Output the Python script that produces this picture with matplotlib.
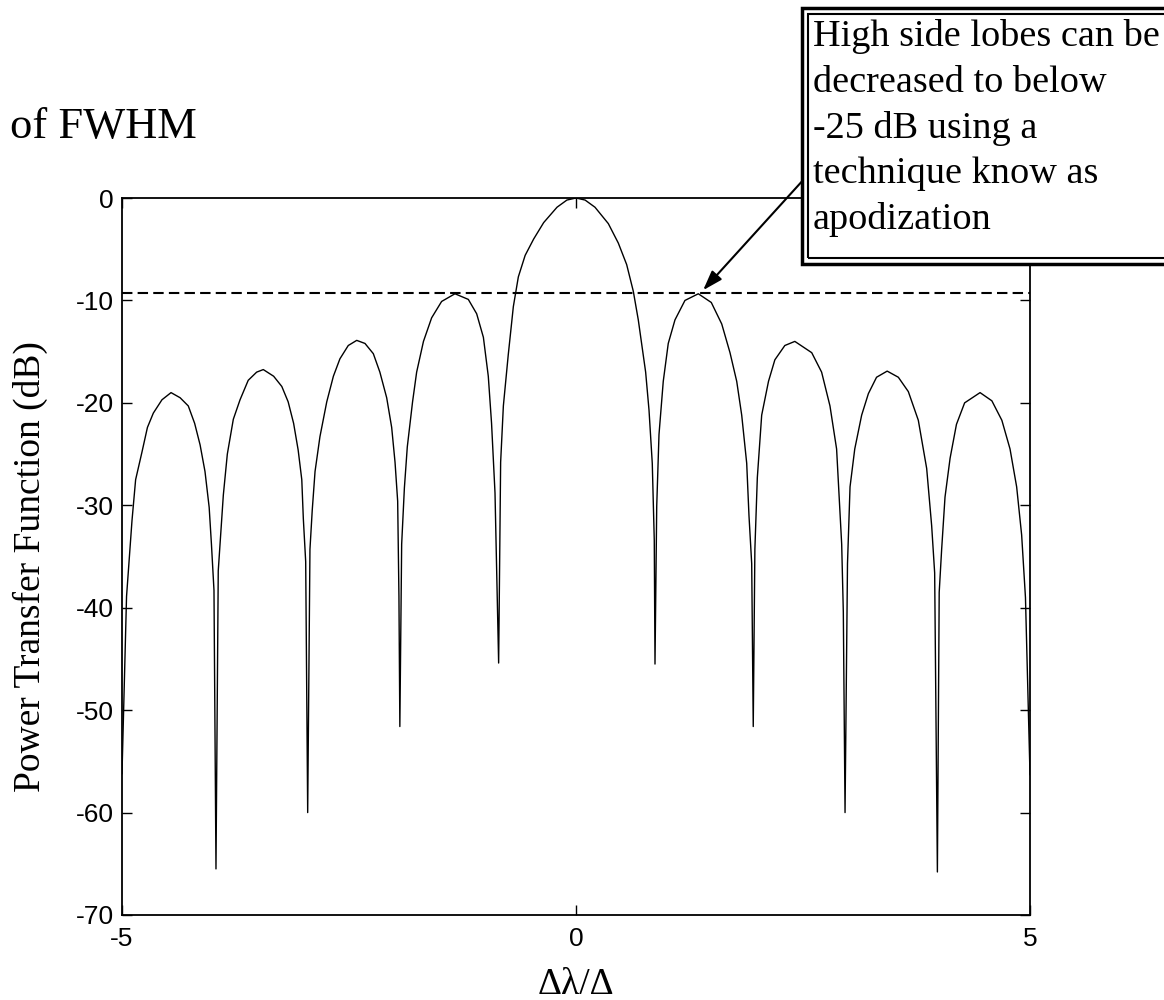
import numpy as np
import matplotlib
matplotlib.use("Agg")
import matplotlib.pyplot as plt
from matplotlib.patches import Rectangle

plt.rcParams["axes.unicode_minus"] = False

# readings taken off the reference curve (detuning, dB)
detuning = [
    -5.0, -4.95, -4.89, -4.85, -4.78, -4.72, -4.655, -4.56, -4.46, -4.36, -4.27,
    -4.20, -4.14, -4.086, -4.04, -4.015, -3.987, -3.965,
    -3.94, -3.90, -3.884, -3.84, -3.774, -3.70, -3.61, -3.517, -3.444, -3.33,
    -3.24, -3.17, -3.11, -3.06, -3.02, -3.003, -2.977, -2.955,
    -2.93, -2.905, -2.874, -2.82, -2.745, -2.672, -2.60, -2.508, -2.415, -2.324,
    -2.232, -2.16, -2.085, -2.03, -1.993, -1.964, -1.95, -1.94,
    -1.92, -1.89, -1.858, -1.80, -1.755, -1.68, -1.59, -1.48, -1.333, -1.186,
    -1.094, -1.02, -0.966, -0.93, -0.892, -0.852,
    -0.83, -0.80, -0.746, -0.69, -0.635, -0.56, -0.466, -0.356, -0.209, -0.1,
    0.0, 0.1, 0.209, 0.356, 0.466, 0.558, 0.631, 0.686, 0.723, 0.767, 0.804,
    0.84, 0.862, 0.87,
    0.889, 0.914, 0.961, 1.016, 1.09, 1.20, 1.347, 1.49, 1.605, 1.696, 1.77,
    1.825, 1.88, 1.905, 1.935, 1.952,
    1.97, 1.997, 2.045, 2.12, 2.19, 2.30, 2.41, 2.596, 2.705, 2.797, 2.87,
    2.926, 2.944, 2.963,
    2.99, 3.018, 3.07, 3.146, 3.22, 3.31, 3.427, 3.55, 3.66, 3.77, 3.862,
    3.917, 3.95, 3.98,
    4.0, 4.027, 4.064, 4.12, 4.19, 4.28, 4.45, 4.58, 4.69, 4.78, 4.853,
    4.908, 4.95, 5.0,
]
power_db = [
    -56.2, -38.9, -31.5, -27.5, -24.8, -22.4, -21.0, -19.7, -19.0, -19.5, -20.3,
    -22.0, -24.1, -26.7, -30.2, -33.8, -38.3, -65.5,
    -36.4, -31.0, -29.0, -25.0, -21.6, -19.7, -17.8, -17.0, -16.75, -17.4,
    -18.4, -19.9, -22.0, -24.6, -27.5, -31.3, -35.5, -60.0,
    -34.3, -30.5, -26.7, -23.3, -19.9, -17.4, -15.7, -14.4, -13.9, -14.2,
    -15.2, -17.0, -19.5, -22.4, -25.8, -29.6, -38.9, -51.6,
    -33.8, -28.3, -24.3, -19.9, -17.0, -14.0, -11.7, -10.1, -9.35, -9.9,
    -11.3, -13.6, -17.4, -22.0, -28.8, -45.4,
    -25.8, -20.3, -15.3, -10.6, -7.7, -5.6, -4.0, -2.4, -0.9, -0.2,
    0.0, -0.2, -0.9, -2.5, -4.4, -6.5, -9.1, -11.9, -14.2, -17.0, -20.7,
    -25.9, -33.4, -45.5,
    -30.1, -23.1, -17.9, -14.2, -11.9, -10.0, -9.35, -10.2, -12.3, -15.1, -17.9,
    -21.2, -25.9, -31.0, -35.7, -51.6,
    -34.3, -27.3, -21.2, -17.9, -15.8, -14.4, -14.0, -15.1, -17.0, -20.3, -24.5,
    -33.8, -40.4, -60.0,
    -35.7, -28.2, -24.5, -21.2, -19.1, -17.5, -16.9, -17.5, -18.9, -21.7, -26.4,
    -32.0, -36.6, -65.8,
    -38.5, -34.3, -29.2, -25.4, -22.1, -20.0, -19.0, -19.8, -21.7, -24.5, -28.2,
    -32.9, -39.0, -56.3,
]
sidelobe_db = -9.3
arrow_tip = (1.40, -9.0)

x_ticks = [-5, 0, 5]
y_ticks = [-70, -60, -50, -40, -30, -20, -10, 0]

note_lines = ["High side lobes can be", "decreased to below", "-25 dB using a",
              "technique know as", "apodization"]

serif = ["Liberation Serif", "DejaVu Serif"]
sans = ["Liberation Sans", "DejaVu Sans"]

W, H = 1164, 1000
fig = plt.figure(figsize=(W / 100, H / 100), dpi=100)
ax = fig.add_axes([122 / W, 1 - 915 / H, (1030 - 122) / W, (915 - 198) / H])

ax.plot(detuning, power_db, color="k", lw=1.0)
ax.axhline(sidelobe_db, color="k", lw=1.5, ls=(0, (5, 2.5)))

ax.set_xlim(-5, 5)
ax.set_ylim(-70, 0)
ax.set_xticks(x_ticks)
ax.set_yticks(y_ticks)
ax.tick_params(direction="in", length=7, width=1, top=True, right=True, labelsize=19)
ax.tick_params(axis="x", pad=9)
ax.tick_params(axis="y", pad=6)
for lab in ax.get_xticklabels() + ax.get_yticklabels():
    lab.set_family(sans)
for sp in ax.spines.values():
    sp.set_linewidth(1.3)

ax.annotate("", xy=arrow_tip, xycoords="data", xytext=(805, H - 178),
            textcoords="figure pixels",
            arrowprops=dict(arrowstyle="-|>,head_length=0.6,head_width=0.2",
                            mutation_scale=20, lw=1.5, color="k", shrinkA=0, shrinkB=0))

# double framed note box, runs off the right edge
outer = Rectangle((801.5 / W, 1 - 264 / H), 450 / W, 256 / H, transform=fig.transFigure,
                  facecolor="white", edgecolor="k", lw=2.5, zorder=4)
inner = Rectangle((808 / W, 1 - 258 / H), 450 / W, 243.5 / H, transform=fig.transFigure,
                  facecolor="none", edgecolor="k", lw=1.5, zorder=5)
fig.add_artist(outer)
fig.add_artist(inner)
for i, line in enumerate(note_lines):
    fig.text(813 / W, 1 - (46 + 45.75 * i) / H, line, family=serif, size=27.5,
             ha="left", va="baseline", zorder=6)

fig.text(10 / W, 1 - 138 / H, "of FWHM", family=serif, size=32, ha="left", va="baseline")
fig.text(30 / W, 1 - 567 / H, "Power Transfer Function (dB)", family=serif, size=27,
         rotation=90, ha="center", va="center")
fig.text(576 / W, 1 - 994 / H, "Δλ/Δ", family=serif, size=27, ha="center", va="baseline")

fig.savefig("out.png", dpi=100)
